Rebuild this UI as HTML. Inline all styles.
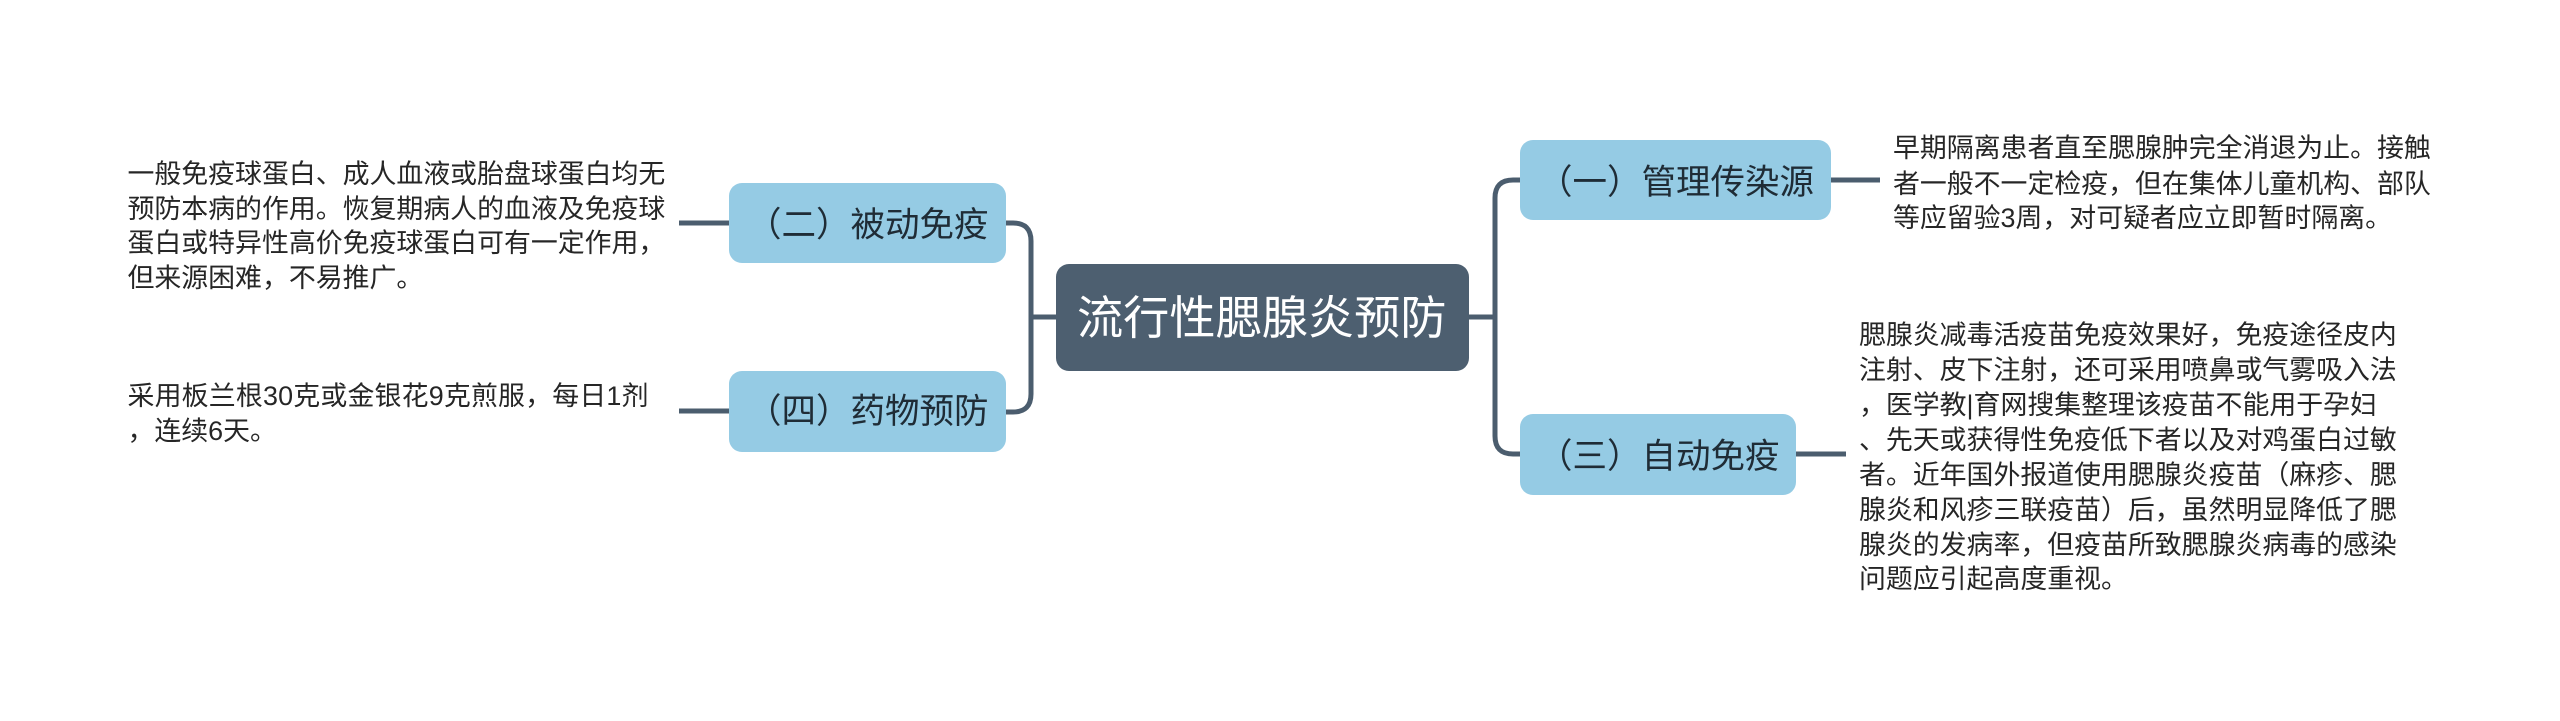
<!DOCTYPE html>
<html lang="zh">
<head>
<meta charset="utf-8">
<style>
html,body{margin:0;padding:0;background:#fff;width:2560px;height:721px;overflow:hidden}
svg{display:block}
text{font-family:"Liberation Sans","Noto Sans CJK SC",sans-serif;white-space:pre}
.d{font-size:26.9px;fill:#262626}
.b{font-size:34.5px;fill:#1f2c36}
.r{font-size:46.2px;fill:#fff}
</style>
</head>
<body>
<svg width="2560" height="721" viewBox="0 0 2560 721" xmlns="http://www.w3.org/2000/svg">
<g fill="none" stroke="#4b5d6e" stroke-width="5">
<path d="M1006 223H1013Q1031 223 1031 241V394Q1031 412 1013 412H1006"/>
<path d="M1031 317H1056"/>
<path d="M1520 180H1513Q1495 180 1495 198V436Q1495 454 1513 454H1520"/>
<path d="M1469 317H1495"/>
<path d="M679 223H729"/>
<path d="M679 411H729"/>
<path d="M1831 180H1880"/>
<path d="M1796 454H1846"/>
</g>
<g fill="#95cbe4">
<rect x="729" y="183" width="277" height="80" rx="13"/>
<rect x="729" y="371" width="277" height="81" rx="13"/>
<rect x="1520" y="140" width="311" height="80" rx="13"/>
<rect x="1520" y="414" width="276" height="81" rx="13"/>
</g>
<rect x="1056" y="264" width="413" height="107" rx="13" fill="#4d5f70"/>
<text class="r" x="1077" y="334">流行性腮腺炎预防</text>
<text class="b" x="747" y="236.5">（二）被动免疫</text>
<text class="b" x="747" y="423">（四）药物预防</text>
<text class="b" x="1538" y="194">（一）管理传染源</text>
<text class="b" x="1538" y="468">（三）自动免疫</text>
<g class="d">
<text class="d" x="127.5" y="183">一般免疫球蛋白、成人血液或胎盘球蛋白均无</text>
<text class="d" x="127.5" y="218">预防本病的作用。恢复期病人的血液及免疫球</text>
<text class="d" x="127.5" y="252">蛋白或特异性高价免疫球蛋白可有一定作用，</text>
<text class="d" x="127.5" y="287">但来源困难，不易推广。</text>
<text class="d" x="127.5" y="405" style="letter-spacing:.2px">采用板兰根30克或金银花9克煎服，每日1剂</text>
<text class="d" x="127.5" y="440">，连续6天。</text>
<text class="d" x="1893" y="157">早期隔离患者直至腮腺肿完全消退为止。接触</text>
<text class="d" x="1893" y="193">者一般不一定检疫，但在集体儿童机构、部队</text>
<text class="d" x="1893" y="227">等应留验3周，对可疑者应立即暂时隔离。</text>
<text class="d" x="1859" y="344">腮腺炎减毒活疫苗免疫效果好，免疫途径皮内</text>
<text class="d" x="1859" y="379">注射、皮下注射，还可采用喷鼻或气雾吸入法</text>
<text class="d" x="1859" y="414">，医学教|育网搜集整理该疫苗不能用于孕妇</text>
<text class="d" x="1859" y="449">、先天或获得性免疫低下者以及对鸡蛋白过敏</text>
<text class="d" x="1859" y="484">者。近年国外报道使用腮腺炎疫苗（麻疹、腮</text>
<text class="d" x="1859" y="519">腺炎和风疹三联疫苗）后，虽然明显降低了腮</text>
<text class="d" x="1859" y="554">腺炎的发病率，但疫苗所致腮腺炎病毒的感染</text>
<text class="d" x="1859" y="588">问题应引起高度重视。</text>
</g>
</svg>
</body>
</html>
